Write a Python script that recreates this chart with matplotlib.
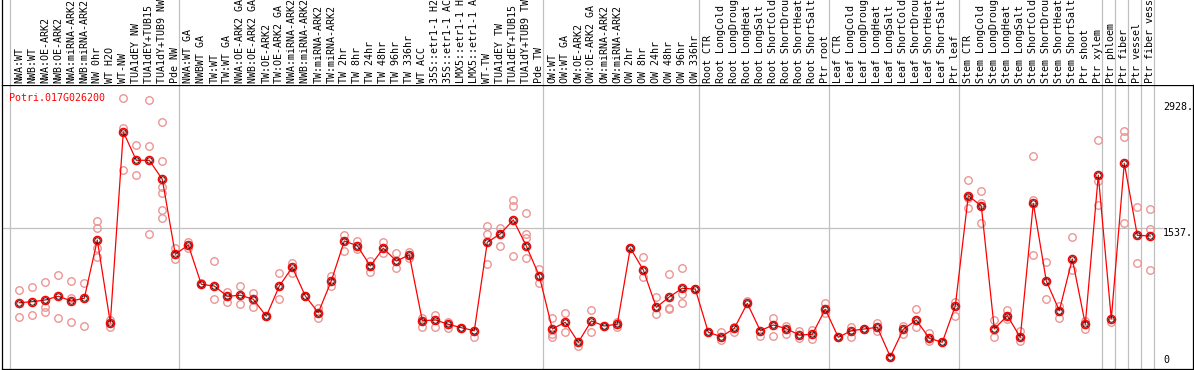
import matplotlib
matplotlib.use("Agg")
import matplotlib.pyplot as plt

plt.rcParams['font.family'] = ['DejaVu Sans Mono']

gene = "Potri.017G026200"

samples = [
    "NWA:WT", "NWB:WT", "NWA:OE-ARK2", "NWB:OE-ARK2", "NWA:miRNA-ARK2", "NWB:miRNA-ARK2",
    "NW 0hr", "WT H2O", "WT-NW", "TUA1dEY NW", "TUA1dEY+TUB15 NW", "TUA1dY+TUB9 NW", "Pde NW",
    "NWA:WT GA", "NWBWT GA", "TW:WT", "TW:WT GA", "NWA:OE-ARK2 GA", "NWB:OE-ARK2 GA",
    "TW:OE-ARK2", "TW:OE-ARK2 GA", "NWA:miRNA-ARK2 GA", "NWB:miRNA-ARK2 GA", "TW:miRNA-ARK2",
    "TW:miRNA-ARK2", "TW 2hr", "TW 8hr", "TW 24hr", "TW 48hr", "TW 96hr", "TW 336hr", "WT ACC",
    "35S::etr1-1 H2O", "35S::etr1-1 ACC", "LMX5::etr1-1 H2O", "LMX5::etr1-1 ACC", "WT-TW",
    "TUA1dEY TW", "TUA1dEY+TUB15 TW", "TUA1dY+TUB9 TW", "Pde TW",
    "OW:WT", "OW:WT GA", "OW:OE-ARK2", "OW:OE-ARK2 GA", "OW:miRNA-ARK2", "OW:miRNA-ARK2",
    "OW 2hr", "OW 8hr", "OW 24hr", "OW 48hr", "OW 96hr", "OW 336hr",
    "Root CTR", "Root LongCold", "Root LongDrought", "Root LongHeat", "Root LongSalt",
    "Root ShortCold", "Root ShortDrought", "Root ShortHeat", "Root ShortSalt", "Ptr root",
    "Leaf CTR", "Leaf LongCold", "Leaf LongDrought", "Leaf LongHeat", "Leaf LongSalt",
    "Leaf ShortCold", "Leaf ShortDrought", "Leaf ShortHeat", "Leaf ShortSalt", "Ptr leaf",
    "Stem CTR", "Stem LongCold", "Stem LongDrought", "Stem LongHeat", "Stem LongSalt",
    "Stem ShortCold", "Stem ShortDrought", "Stem ShortHeat", "Stem ShortSalt", "Ptr shoot",
    "Ptr xylem", "Ptr phloem", "Ptr fiber", "Ptr vessel", "Ptr fiber vessel",
]

means = [
    712, 723, 742, 783, 731, 761, 1404, 491, 2597, 2284, 2284, 2074, 1246,
    1349, 915, 896, 783, 794, 750, 562, 896, 1103, 786, 602, 952, 1393, 1341, 1117,
    1313, 1172, 1239, 513, 521, 474, 436, 403, 1379, 1471, 1625, 1338, 1007,
    422, 496, 275, 510, 455, 474, 1316, 1073, 661, 775, 871, 863,
    385, 337, 429, 705, 403, 466, 425, 355, 363, 639,
    330, 403, 422, 440, 116, 418, 521, 319, 275, 676,
    1893, 1780, 422, 569, 330, 1809, 952, 624, 1195, 474, 2119,
    532, 2251, 1456, 1448,
]

replicates = [
    [852, 558], [882, 573], [937, 661, 606], [1015, 540], [952, 761, 496], [926, 452],
    [1614, 1533, 1313, 1220], [521, 440], [2969, 2644, 2174], [2453, 2119],
    [2947, 2442, 1471], [2707, 2273, 1993, 1920, 1735, 1644], [1313, 1191],
    [1386, 1313], [930], [1172, 750], [834, 723], [896, 698], [822, 668], [562],
    [1040, 750], [1154, 1043], [786], [650, 540], [1007, 900], [1460, 1286],
    [1393, 1305], [1172, 1048], [1379, 1257], [1257, 1092], [1275, 1206],
    [543, 447], [576, 447], [499, 429], [436], [337], [1562, 1467, 1139],
    [1540, 1338], [1846, 1783, 1228], [1699, 1471, 1426, 1202], [1084, 926],
    [546, 363, 330], [602, 392], [237], [631, 385], [455], [502, 447], [1316],
    [1213, 993], [772, 584], [1029, 650, 639], [1092, 808, 705], [863],
    [385], [385, 300], [447, 385], [731], [344], [546, 348], [455, 363],
    [400, 319], [411, 308], [705, 595],
    [330], [447, 330], [422], [485, 403], [116], [455, 363], [643, 440],
    [381, 293], [275], [723, 565],
    [2067, 1865, 1754], [1945, 1809, 1589], [521, 337], [631, 529], [403, 293],
    [2332, 1846, 1239], [1158, 750], [676, 540], [1437, 1073], [510, 418],
    [2505, 2059, 1787], [496], [2611, 2545, 1589], [1765, 1150], [1743, 1522, 1070],
]

# sample index after which a group separator is drawn
group_ends = [0, 13, 41, 53, 63, 73, 84, 85, 86, 87, 88]
ref_ticks = [2928, 1537, 0]

W, H = 1194, 370
fig = plt.figure(figsize=(W / 100, H / 100), dpi=100)

# pixel layout of the reference
left_px, right_px = 2, 1193
plot_top, plot_bot = 85, 369
ax = fig.add_axes([left_px / W, (H - plot_bot) / H, (right_px - left_px) / W,
                   (plot_bot - plot_top) / H])
axl = fig.add_axes([left_px / W, (H - plot_top) / H, (right_px - left_px) / W,
                    plot_top / H], sharex=ax)

step, x0 = 13.0, 19.3
xlo = 1 + (left_px - x0) / step
xhi = 1 + (right_px - x0) / step
ax.set_xlim(xlo, xhi)
# value -> pixel: y = 367.2 - v * 0.0906
k, y0 = 0.0906, 367.2
ax.set_ylim((y0 - plot_bot) / k, (y0 - plot_top) / k)
axl.set_ylim(0, plot_top)

grid_c = "#c0c0c0"
for g in group_ends:
    ax.axvline(g + 0.32, color=grid_c, lw=0.9, zorder=1)
    axl.axvline(g + 0.32, color=grid_c, lw=0.9, zorder=1)
ax.hlines(ref_ticks[1], xlo, 88.95, color=grid_c, lw=0.9, zorder=1)

xs = list(range(1, len(samples) + 1))

rx, ry = [], []
for x, reps in zip(xs, replicates):
    for r in reps:
        rx.append(x)
        ry.append(r)
ax.plot(rx, ry, 'o', ms=5.4, mfc='none', mec='#ec9595', mew=1.0, zorder=2)

ax.plot(xs, means, '-', color='#ff0000', lw=0.9, zorder=3)
ax.plot(xs, means, 'o', ms=5.8, mfc='none', mec='#ff0000', mew=1.1, zorder=4)
ax.plot(xs, means, 'o', ms=3.9, mfc='none', mec='#000000', mew=0.6, zorder=5)

for x, lab in zip(xs, samples):
    axl.text(x, 2, lab, rotation=90, ha='center', va='bottom', fontsize=7.2,
             color='black', clip_on=False)

ax.text(7.5 / (right_px - left_px), 1 - 8 / (plot_bot - plot_top), gene,
        transform=ax.transAxes, color='#ff0000', fontsize=7.2, ha='left', va='top')

tx = 1 + (1163 - x0) / step
ax.text(tx, ref_ticks[0], f"{ref_ticks[0]}.", fontsize=7.2, ha='left', va='top')
ax.text(tx, ref_ticks[1], f"{ref_ticks[1]}.", fontsize=7.2, ha='left', va='top')
ax.text(tx, ref_ticks[2] + 22, f"{ref_ticks[2]}", fontsize=7.2, ha='left', va='bottom')

for a in (ax, axl):
    a.set_xticks([])
    a.set_yticks([])
    for s in a.spines.values():
        s.set_linewidth(0.9)
        s.set_color('black')
axl.spines['top'].set_visible(False)
axl.spines['right'].set_visible(False)
axl.spines['bottom'].set_visible(False)

fig.savefig("out.png", dpi=100)
